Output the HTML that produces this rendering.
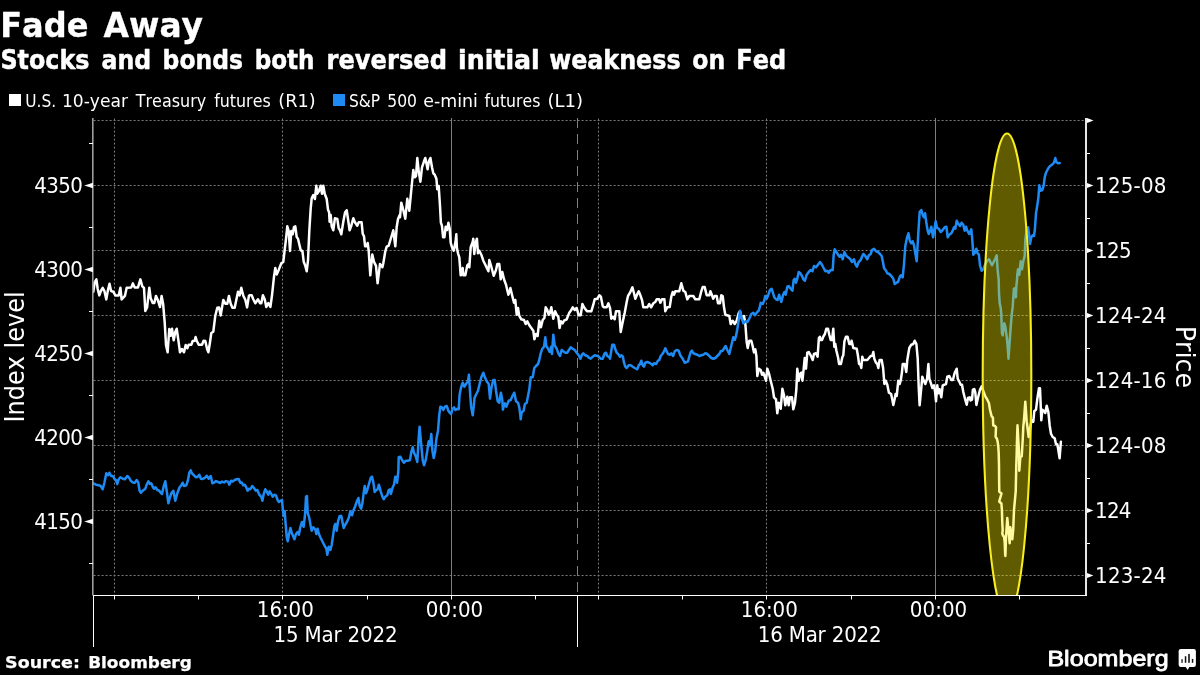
<!DOCTYPE html>
<html lang="en"><head><meta charset="utf-8"><title>Fade Away</title>
<style>
html,body{margin:0;padding:0;background:#000;}
body{width:1200px;height:675px;overflow:hidden;position:relative;font-family:"DejaVu Sans","Liberation Sans",sans-serif;color:#fff;}
svg{position:absolute;left:0;top:0;display:block;}
text{font-family:"DejaVu Sans","Liberation Sans",sans-serif;fill:#fff;font-kerning:none;}
.logo{font-family:"Liberation Sans","DejaVu Sans",sans-serif;}
.gh,.gv{stroke:#7c7c7c;stroke-width:1;stroke-dasharray:2 2;fill:none;}
.gs{stroke:#7e7e7e;stroke-width:1;fill:none;}
.tk{stroke:#fff;stroke-width:1;fill:none;}
.ar{fill:#fff;}
</style></head><body>
<svg width="1200" height="675" viewBox="0 0 1200 675">
<rect width="1200" height="675" fill="#000"/>
<defs><clipPath id="plot"><rect x="93" y="118.0" width="992" height="477.5"/></clipPath></defs>
<g id="header">
<text y="36.60" font-size="32.9" font-weight="bold" stroke="#fff" stroke-width="0.3" stroke-linejoin="round"><tspan x="0.21" textLength="88.25" lengthAdjust="spacingAndGlyphs">Fade</tspan> <tspan x="103.57" textLength="99.44" lengthAdjust="spacingAndGlyphs">Away</tspan></text>
<text y="68.80" font-size="25.8" font-weight="bold" stroke="#fff" stroke-width="0.5" stroke-linejoin="round"><tspan x="0.43" textLength="89.02" lengthAdjust="spacingAndGlyphs">Stocks</tspan> <tspan x="101.56" textLength="49.59" lengthAdjust="spacingAndGlyphs">and</tspan> <tspan x="162.62" textLength="80.35" lengthAdjust="spacingAndGlyphs">bonds</tspan> <tspan x="254.65" textLength="59.93" lengthAdjust="spacingAndGlyphs">both</tspan> <tspan x="326.57" textLength="120.36" lengthAdjust="spacingAndGlyphs">reversed</tspan> <tspan x="458.08" textLength="81.69" lengthAdjust="spacingAndGlyphs">initial</tspan> <tspan x="549.15" textLength="131.46" lengthAdjust="spacingAndGlyphs">weakness</tspan> <tspan x="692.26" textLength="32.90" lengthAdjust="spacingAndGlyphs">on</tspan> <tspan x="736.34" textLength="49.81" lengthAdjust="spacingAndGlyphs">Fed</tspan></text>
<rect x="9" y="94" width="12" height="12" fill="#fff"/>
<text y="106.50" font-size="17"><tspan x="25.31" textLength="30.87" lengthAdjust="spacingAndGlyphs">U.S.</tspan> <tspan x="61.92" textLength="66.16" lengthAdjust="spacingAndGlyphs">10-year</tspan> <tspan x="135.80" textLength="70.40" lengthAdjust="spacingAndGlyphs">Treasury</tspan> <tspan x="214.18" textLength="56.50" lengthAdjust="spacingAndGlyphs">futures</tspan> <tspan x="278.38" textLength="37.36" lengthAdjust="spacingAndGlyphs">(R1)</tspan></text>
<rect x="333" y="94" width="12" height="12" fill="#1e8af4"/>
<text y="106.50" font-size="17"><tspan x="349.02" textLength="31.16" lengthAdjust="spacingAndGlyphs">S&amp;P</tspan> <tspan x="387.25" textLength="29.72" lengthAdjust="spacingAndGlyphs">500</tspan> <tspan x="423.33" textLength="54.53" lengthAdjust="spacingAndGlyphs">e-mini</tspan> <tspan x="484.49" textLength="55.89" lengthAdjust="spacingAndGlyphs">futures</tspan> <tspan x="547.56" textLength="35.55" lengthAdjust="spacingAndGlyphs">(L1)</tspan></text>
</g>
<g id="grid">
<line class="gh" x1="93.6" x2="1084.5" y1="120.5" y2="120.5"/>
<line class="gh" x1="93.6" x2="1084.5" y1="185.5" y2="185.5"/>
<line class="gh" x1="93.6" x2="1084.5" y1="250.5" y2="250.5"/>
<line class="gh" x1="93.6" x2="1084.5" y1="315.5" y2="315.5"/>
<line class="gh" x1="93.6" x2="1084.5" y1="380.5" y2="380.5"/>
<line class="gh" x1="93.6" x2="1084.5" y1="445.5" y2="445.5"/>
<line class="gh" x1="93.6" x2="1084.5" y1="510.5" y2="510.5"/>
<line class="gh" x1="93.6" x2="1084.5" y1="575.5" y2="575.5"/>
<line class="gv" x1="114.5" x2="114.5" y1="118.6" y2="595.5"/>
<line class="gv" x1="282.5" x2="282.5" y1="118.6" y2="595.5"/>
<line class="gv" x1="598.5" x2="598.5" y1="118.6" y2="595.5"/>
<line class="gv" x1="766.5" x2="766.5" y1="118.6" y2="595.5"/>
<line class="gs" x1="451.5" x2="451.5" y1="118.0" y2="595.5"/>
<line class="gs" x1="935.5" x2="935.5" y1="118.0" y2="595.5"/>
<line x1="577.5" x2="577.5" y1="118.0" y2="595.5" stroke="#808080" stroke-width="1" stroke-dasharray="10 6"/>
</g>
<g id="series" fill="none" stroke-linejoin="round" stroke-linecap="round">
<polyline points="93.3,291.7 94.7,282.3 96.4,279.4 97.7,289.0 99.3,295.4 100.9,291.0 102.7,287.9 104.4,291.0 106.3,299.4 108.0,289.7 109.5,283.7 111.1,291.0 113.3,291.7 115.3,295.4 118.7,295.4 120.4,287.7 121.6,299.4 124.9,295.9 126.7,287.7 131.3,287.4 132.9,283.4 134.7,287.4 138.0,287.4 140.4,279.4 142.3,286.3 144.0,287.9 145.3,311.0 147.1,307.4 149.3,287.7 150.7,298.3 152.7,303.0 154.3,303.0 156.0,295.9 157.7,299.7 160.0,307.0 161.6,295.9 163.1,303.7 164.7,322.3 166.0,345.0 167.6,352.3 169.3,329.0 170.7,335.7 172.0,328.7 173.7,340.3 175.3,331.7 176.7,328.7 178.3,339.7 180.0,352.3 182.0,349.0 184.0,352.3 185.7,345.0 187.3,348.3 188.7,344.7 191.3,344.7 192.7,341.0 194.7,340.7 195.6,337.0 196.7,340.7 198.7,344.7 202.0,344.7 203.6,340.7 205.3,341.0 207.1,349.0 208.4,352.3 210.0,342.3 211.3,333.0 213.3,331.7 215.3,315.7 217.3,307.7 219.1,307.4 220.7,315.4 223.3,299.9 225.3,303.7 227.3,303.7 228.9,295.9 230.7,303.7 232.4,307.7 234.7,307.7 238.0,291.7 239.6,295.4 241.3,287.7 243.3,295.7 245.3,299.7 247.1,307.4 248.9,295.9 249.6,295.3 251.7,295.3 253.3,299.3 255.3,303.3 258.0,299.3 260.0,303.3 261.3,303.3 262.9,295.3 264.7,299.3 266.3,307.0 268.3,303.0 270.4,307.0 272.0,295.3 274.0,276.6 275.3,267.9 276.7,274.6 278.7,269.9 281.3,263.3 283.3,261.9 284.7,249.9 286.0,239.0 287.3,226.3 288.7,231.0 290.0,251.0 291.3,231.0 292.7,234.3 294.0,227.0 295.3,226.3 296.7,237.0 298.0,238.7 299.3,244.3 300.7,250.3 302.4,251.0 303.7,261.7 305.3,265.9 306.7,271.3 308.0,260.3 309.3,231.0 310.7,208.3 311.7,198.3 313.3,195.0 314.9,199.0 316.3,185.7 317.3,193.7 318.9,191.0 320.7,185.7 322.0,193.7 323.3,185.7 324.7,193.7 326.7,199.0 328.0,209.7 329.1,212.3 329.6,221.7 330.7,215.0 331.7,226.3 333.3,230.3 334.9,218.3 337.3,219.0 338.7,228.3 340.0,230.3 341.3,234.3 343.3,221.7 345.1,212.3 346.7,210.3 348.0,219.0 349.6,230.3 351.3,225.7 353.3,218.3 354.9,222.3 357.3,225.7 358.7,222.3 361.6,222.3 362.7,233.7 364.0,236.3 365.1,246.3 366.4,246.3 367.7,243.0 368.7,251.0 370.3,275.3 372.3,254.6 374.0,261.9 376.0,265.9 377.6,283.3 380.0,263.9 382.4,267.3 383.3,263.3 385.3,251.3 386.7,246.6 388.7,245.7 390.7,239.0 393.3,230.3 395.3,246.3 396.7,227.0 398.0,219.0 399.7,215.0 400.0,217.3 401.3,202.7 403.3,210.0 405.3,218.7 407.3,198.7 409.3,210.7 411.3,190.0 413.3,170.0 414.7,177.3 416.0,176.0 417.3,158.0 418.7,171.3 420.4,181.7 422.0,167.3 424.0,161.3 425.3,158.0 426.3,162.7 427.6,169.3 428.9,161.3 430.4,158.0 432.0,167.3 433.3,173.3 434.7,174.7 436.4,178.7 437.3,189.3 438.7,186.0 440.0,206.0 440.9,222.7 442.0,226.0 443.1,237.3 444.4,237.3 445.7,226.7 447.1,230.0 448.4,222.7 449.7,228.7 450.7,242.7 452.0,247.3 453.7,250.7 455.6,241.3 456.3,234.3 456.9,248.0 458.0,253.3 459.3,257.3 460.7,275.3 462.7,268.0 463.3,275.3 465.3,275.3 467.3,265.3 468.7,264.0 469.3,267.3 470.7,247.3 472.7,242.0 473.3,238.7 474.3,254.0 475.3,244.0 476.9,238.7 478.0,253.3 479.3,250.7 481.3,254.7 483.3,260.7 485.3,264.7 488.4,271.3 489.3,260.0 491.3,266.7 493.7,275.7 496.0,270.0 497.3,264.0 499.3,264.0 500.7,279.3 502.3,272.0 504.0,279.3 506.0,284.7 508.4,294.7 510.4,288.0 512.0,294.7 514.0,302.7 515.3,300.0 516.7,314.7 518.0,308.0 519.1,315.3 521.3,319.3 524.0,320.0 525.7,324.0 527.3,321.3 529.3,325.3 531.3,328.0 533.3,330.7 534.4,339.3 536.0,334.0 537.6,336.0 539.3,320.7 540.9,327.3 542.7,320.0 544.4,318.0 545.7,307.3 547.3,310.0 548.7,314.7 550.0,312.7 551.3,307.3 553.3,318.7 555.1,311.3 556.7,314.7 558.3,316.7 559.6,328.0 560.9,321.3 562.7,323.3 564.0,320.7 566.7,319.3 569.3,312.7 571.3,310.0 572.7,307.3 574.7,310.0 576.7,308.0 578.7,315.3 580.7,315.3 582.4,304.0 584.0,307.3 586.0,310.0 587.3,311.3 591.3,311.3 593.3,304.7 594.7,299.3 597.3,298.7 599.3,295.3 600.9,296.7 602.7,306.0 604.0,307.3 606.7,307.3 608.4,303.3 610.0,308.0 611.3,318.7 612.9,316.7 614.7,319.3 616.0,311.3 619.3,311.3 620.7,332.0 622.7,322.0 624.7,312.7 626.7,302.0 628.0,296.0 630.0,292.7 632.4,287.3 634.0,293.3 635.3,298.7 637.3,294.0 638.7,291.3 640.4,295.3 642.0,300.0 643.3,307.3 647.3,307.3 649.3,304.0 651.1,307.3 653.3,303.3 655.3,302.0 656.7,299.3 659.1,299.3 660.4,302.7 662.0,299.3 664.4,299.3 665.3,311.3 667.3,307.3 669.7,307.1 671.3,296.7 672.7,292.0 674.0,294.7 675.3,291.3 679.3,291.3 681.3,283.3 683.3,290.7 685.3,292.0 687.3,299.3 689.3,296.0 693.3,296.0 695.3,299.3 699.3,299.3 701.3,291.3 702.7,287.1 704.7,287.1 706.7,295.3 709.3,295.3 710.4,291.3 712.0,295.3 713.3,298.7 714.7,296.0 716.7,296.0 718.0,303.3 720.0,303.3 721.3,295.3 722.7,296.0 724.0,307.3 725.3,314.7 729.3,316.0 730.7,324.0 732.7,320.7 734.7,324.0 736.7,320.7 738.7,313.3 740.0,311.3 742.0,319.3 744.0,316.0 745.3,323.3 746.7,342.0 747.7,348.0 749.3,340.7 751.3,340.7 752.7,346.3 754.0,352.4 755.3,349.3 756.4,356.0 757.3,376.0 758.9,368.7 760.7,370.0 762.0,374.7 763.3,372.7 764.7,376.7 766.0,380.7 767.3,368.7 769.1,374.0 770.7,380.7 772.7,388.7 774.0,397.3 776.0,399.3 777.3,413.3 778.7,402.7 780.7,408.7 782.4,388.7 784.0,395.3 785.3,405.3 787.3,396.7 788.7,405.3 790.0,397.3 792.0,397.3 793.3,409.3 794.9,403.3 796.3,390.0 797.3,368.7 798.7,380.7 800.0,374.0 801.3,372.7 802.4,380.7 803.7,368.7 804.7,358.0 806.0,368.7 807.3,352.7 808.7,352.0 810.7,355.3 812.7,360.0 814.0,354.0 816.0,353.3 817.6,356.7 818.9,338.0 819.9,336.7 820.7,340.0 822.0,340.0 823.3,336.7 824.9,334.0 826.3,328.7 828.0,328.7 829.3,334.7 830.7,340.0 832.0,340.0 833.3,328.7 834.3,346.7 835.3,344.0 836.4,350.7 838.0,357.3 839.1,364.0 840.9,364.0 842.3,357.3 843.3,355.3 844.4,341.3 846.0,336.7 847.6,336.7 849.3,344.0 850.7,344.0 851.6,340.7 853.3,348.0 856.7,348.7 858.0,356.0 859.1,364.0 860.4,364.7 861.3,368.0 862.3,356.7 863.3,360.0 867.3,360.0 870.7,356.0 872.4,355.7 873.3,352.0 874.3,358.7 876.0,362.7 877.3,364.0 878.3,368.0 879.6,360.0 881.7,360.0 883.1,368.0 884.4,384.0 885.7,380.7 887.3,384.7 888.9,392.7 891.1,394.0 892.4,400.0 893.3,405.1 894.7,398.7 895.6,394.0 896.7,396.0 898.3,380.7 899.6,384.0 900.7,380.7 902.0,372.0 902.7,364.0 904.7,364.0 906.3,372.0 907.3,360.0 909.3,348.0 911.3,344.7 913.3,344.0 914.7,340.7 916.4,344.0 917.7,358.7 918.7,386.7 919.6,405.3 920.9,392.0 922.3,376.7 924.0,381.3 925.3,384.0 927.1,378.7 928.4,364.0 929.3,378.7 930.7,382.7 932.4,388.0 934.0,385.3 935.1,392.0 936.0,401.3 937.3,385.3 938.3,393.3 939.6,389.3 941.3,397.3 942.7,385.3 946.0,384.0 947.3,376.7 949.3,376.0 951.3,380.0 952.9,380.0 954.7,372.7 956.7,368.7 957.7,378.7 959.1,381.3 960.7,384.7 962.0,384.7 963.3,392.0 965.3,400.0 966.7,404.7 968.0,398.0 969.7,397.3 970.5,400.5 972.0,399.7 972.9,389.7 974.3,389.0 975.3,392.3 976.4,405.0 978.0,397.7 980.0,389.7 981.7,386.3 983.3,391.0 985.3,396.3 987.3,399.7 988.9,403.0 990.0,409.7 991.6,416.3 992.9,417.7 993.2,425.3 995.0,426.0 996.0,427.3 995.6,436.7 996.9,438.7 997.7,442.0 998.3,446.7 998.7,453.3 999.0,465.0 999.1,478.3 999.3,491.7 1001.5,493.5 999.2,501.5 1001.4,503.5 1001.9,510.0 1002.3,523.3 1002.7,530.0 1002.3,533.3 1003.0,535.7 1004.0,536.7 1004.7,542.0 1005.2,555.0 1005.4,556.0 1006.0,537.0 1007.3,518.0 1009.7,543.3 1010.3,527.3 1012.3,539.3 1013.2,530.0 1014.0,510.0 1015.7,491.7 1016.0,478.3 1016.3,465.0 1016.7,453.3 1017.0,440.0 1017.5,425.3 1018.3,440.0 1019.0,452.0 1019.3,470.7 1020.3,457.3 1021.7,456.3 1022.0,452.0 1022.7,440.0 1023.3,426.7 1024.0,420.0 1025.3,401.7 1026.7,421.7 1027.6,428.3 1028.7,437.0 1030.0,428.3 1031.6,420.3 1033.3,421.7 1034.3,411.0 1036.0,409.7 1037.3,399.0 1039.0,388.3 1040.0,388.3 1041.3,420.3 1042.3,409.7 1044.0,411.0 1045.3,413.0 1046.7,405.7 1048.4,412.3 1049.7,425.7 1051.0,433.7 1052.7,437.0 1054.7,438.3 1056.0,444.3 1057.3,444.3 1058.3,449.7 1059.6,458.3 1060.9,441.7" stroke="#fff" stroke-width="2.5"/>
<polyline points="93.3,483.3 96.0,484.7 98.7,485.3 100.7,486.0 102.7,489.3 104.4,482.7 106.3,473.3 108.0,475.3 109.3,472.7 111.1,476.0 112.9,476.0 114.7,479.3 116.0,480.0 117.3,484.0 118.7,479.3 120.4,477.3 122.7,478.7 124.9,479.3 127.3,476.0 129.3,478.0 130.7,480.7 132.7,482.4 134.7,482.7 136.7,480.0 138.3,482.7 139.6,490.7 140.9,492.7 142.7,490.7 145.3,488.7 146.7,484.7 148.4,481.3 150.0,484.0 151.3,483.3 152.7,486.7 154.0,488.7 155.6,487.3 157.3,490.0 159.3,490.7 160.7,492.7 162.0,494.0 163.6,486.7 165.3,481.3 166.7,490.7 168.4,503.3 170.0,497.3 171.6,492.7 173.3,490.7 175.3,500.7 177.3,493.3 179.6,487.3 181.3,485.3 182.7,482.7 184.0,486.0 186.3,485.3 188.0,480.0 189.3,472.7 190.7,470.4 192.0,473.3 194.0,475.3 196.0,477.3 197.7,476.7 199.3,474.7 200.9,478.7 202.7,478.9 204.7,478.0 206.7,475.7 208.7,478.7 210.7,476.0 212.4,483.3 214.0,482.7 216.0,481.1 218.0,482.0 220.0,482.9 222.0,481.6 224.0,482.4 226.0,481.1 228.0,481.6 229.3,484.7 231.1,480.7 232.7,481.6 234.7,480.0 236.7,479.3 238.7,478.9 240.4,482.7 241.7,482.4 243.3,485.3 244.7,484.7 246.0,486.7 247.6,490.7 248.9,488.7 249.9,489.3 250.7,488.7 252.3,486.0 254.0,488.0 255.7,490.7 257.3,490.0 259.3,494.7 261.1,496.7 262.4,500.7 263.7,494.0 265.3,489.3 266.9,492.0 268.3,494.7 269.6,491.3 271.3,494.0 272.7,496.7 274.4,494.7 276.0,495.3 277.6,500.0 278.9,502.0 280.7,500.7 282.0,500.0 282.9,510.0 283.7,516.0 284.7,511.3 285.6,523.3 286.7,536.7 287.7,541.3 289.1,534.0 290.4,528.0 291.7,532.7 293.1,536.0 294.4,539.3 296.0,534.0 297.6,532.0 298.9,534.7 300.3,527.3 302.0,522.0 303.7,526.7 305.1,514.0 306.0,496.7 306.9,496.0 307.7,512.7 309.3,518.0 310.7,526.0 311.7,530.7 313.3,527.3 315.3,529.3 316.3,534.0 317.6,528.7 318.9,534.0 320.7,538.0 322.7,542.0 324.7,546.0 326.4,548.7 327.3,554.7 328.7,546.7 330.4,550.0 331.7,544.7 333.1,535.3 334.4,526.0 335.3,524.0 336.7,530.7 338.0,521.3 339.7,516.0 341.3,516.0 342.7,523.3 343.7,528.0 345.3,524.7 346.9,522.0 348.7,518.0 350.4,511.3 352.0,515.3 353.6,510.0 355.3,506.0 357.1,500.7 358.4,498.0 359.7,506.0 361.1,508.7 362.4,503.3 363.7,492.7 364.7,486.0 366.0,493.3 367.3,490.0 369.1,483.3 370.7,478.0 372.0,476.7 373.3,482.0 374.7,492.0 376.3,490.0 377.6,489.3 378.9,484.7 380.7,491.3 382.4,496.7 383.7,499.3 385.3,496.7 387.3,495.3 388.7,490.0 390.0,489.3 390.9,494.0 392.7,487.3 394.0,484.7 395.3,476.7 397.1,482.7 398.4,470.0 398.7,457.3 400.4,456.7 402.0,460.0 404.0,462.7 405.7,460.7 408.0,460.7 410.0,460.0 411.3,452.0 412.7,447.3 414.0,452.7 415.6,456.0 417.3,462.0 418.7,437.3 419.6,426.7 420.9,441.3 422.7,460.0 424.0,465.3 425.7,460.0 427.3,450.7 428.7,441.3 430.0,445.3 431.3,434.0 432.4,450.7 433.7,458.0 435.1,452.0 436.4,438.7 438.0,430.7 439.3,414.7 440.4,406.7 442.0,407.3 443.3,410.0 444.9,406.7 446.7,406.0 448.4,410.7 449.7,412.7 451.1,414.0 452.4,409.3 454.0,407.3 455.6,410.0 457.3,408.7 458.7,409.3 459.6,394.7 460.9,388.0 462.7,382.7 464.4,386.7 466.0,384.0 468.0,381.3 468.9,374.7 469.7,386.7 470.4,397.3 471.1,406.7 472.7,415.3 473.7,406.7 474.5,398.0 476.0,394.7 478.0,390.7 479.6,384.0 481.3,377.3 483.3,372.7 484.9,377.3 486.7,381.3 488.7,384.0 490.0,398.7 491.6,386.7 493.3,380.0 494.7,380.0 496.0,390.7 497.7,401.3 499.3,402.7 500.9,392.7 502.3,400.0 502.9,409.6 504.0,405.3 504.9,403.3 506.3,406.7 508.7,400.7 510.7,400.0 512.4,396.0 514.3,392.7 516.0,401.3 518.0,402.7 519.3,407.3 520.1,413.3 520.7,419.3 521.5,413.3 522.3,411.7 523.6,410.7 524.9,404.0 526.7,402.7 528.0,396.0 529.3,389.3 530.7,377.3 532.7,377.3 534.3,368.0 536.0,366.0 538.0,364.0 539.3,360.0 540.7,353.3 542.3,348.7 544.0,346.7 545.3,337.3 546.3,346.0 548.0,348.7 549.7,352.0 551.1,346.7 552.0,354.0 553.3,334.7 554.7,345.3 556.7,348.7 558.3,353.3 560.0,356.0 561.7,350.0 563.3,351.3 565.3,352.7 567.3,352.7 568.9,350.0 570.7,347.3 572.7,348.7 574.7,350.0 576.7,352.7 578.7,355.3 580.4,358.7 582.0,354.7 583.3,353.3 585.3,355.3 587.3,356.0 589.3,358.0 590.7,358.7 592.7,356.7 594.7,355.3 596.7,355.7 598.7,356.7 600.7,358.7 602.7,358.7 604.7,353.3 606.0,352.7 607.3,356.0 609.3,357.3 610.0,358.7 611.3,350.7 612.3,344.7 614.0,344.7 615.3,349.3 616.7,352.7 618.7,354.7 620.0,356.7 621.6,355.3 622.9,356.7 624.0,362.7 625.3,366.7 626.7,368.0 628.7,365.3 630.7,365.3 632.7,366.7 634.7,368.0 637.3,369.3 638.7,365.3 640.0,364.0 641.3,360.7 642.7,365.3 644.0,366.7 645.3,362.7 647.3,362.0 649.3,362.7 651.3,364.0 652.7,365.3 654.0,363.3 656.0,364.0 658.0,360.7 659.3,360.0 660.7,356.0 662.4,354.0 664.0,351.3 665.3,348.3 666.7,351.3 668.0,354.0 670.0,354.7 671.3,353.3 673.1,356.0 674.7,351.3 676.7,350.0 678.7,350.7 680.0,354.7 681.3,356.7 682.7,358.7 684.7,362.7 686.7,362.0 688.0,361.3 689.3,356.7 690.7,352.0 692.0,350.7 693.3,353.3 695.3,354.0 697.3,354.7 699.3,356.0 701.3,355.3 703.3,354.7 705.3,353.3 707.3,354.0 709.3,356.0 711.3,358.0 713.3,358.7 715.3,358.0 717.3,356.0 719.3,354.0 720.7,351.3 722.7,350.7 724.3,348.0 725.6,346.0 727.3,350.0 729.3,354.0 730.7,348.0 732.0,342.7 733.3,337.3 734.7,340.0 736.0,336.0 737.3,329.3 738.7,320.0 740.0,310.7 741.3,316.0 743.3,323.3 745.3,321.3 747.3,322.0 749.3,318.7 751.3,314.0 753.3,312.7 754.9,315.3 756.7,312.7 758.7,310.7 759.9,306.7 760.7,302.7 762.7,304.0 764.0,301.3 765.3,296.0 766.7,298.7 768.4,294.7 770.0,290.0 771.6,288.7 772.9,292.7 774.3,297.3 776.0,299.3 777.7,300.0 779.1,294.7 781.3,302.0 783.1,294.7 784.4,292.0 785.7,294.7 787.3,286.7 788.7,286.0 790.0,288.0 792.4,290.7 793.7,280.0 794.7,278.7 796.0,282.7 797.3,278.7 798.7,272.0 800.4,273.3 802.0,276.0 803.3,279.3 804.9,280.7 806.7,274.7 808.7,272.0 810.7,270.0 812.4,271.3 814.0,266.0 816.0,267.3 818.0,264.7 820.0,262.0 822.0,264.7 823.6,268.0 825.3,271.3 827.3,270.7 828.7,272.7 830.7,270.0 832.7,270.0 833.7,254.7 834.7,249.3 836.4,252.0 838.0,254.7 839.6,256.7 840.9,254.7 842.7,259.3 844.4,252.0 846.0,255.3 848.0,257.3 850.0,258.7 852.0,262.0 854.0,259.3 855.3,264.0 856.9,266.7 858.7,262.0 860.7,260.0 862.0,256.7 863.3,254.0 865.3,256.0 867.3,259.3 868.9,255.3 870.7,254.0 872.0,250.0 874.0,248.7 876.0,251.3 878.0,252.0 880.0,254.0 881.7,256.0 883.1,262.7 884.0,268.0 886.0,270.7 887.3,273.3 889.3,274.0 891.3,276.0 893.3,278.7 894.7,284.0 896.4,282.7 898.0,282.0 899.6,277.3 900.9,275.3 902.7,277.3 904.0,264.0 905.3,246.0 907.1,237.3 908.4,233.3 909.7,240.0 910.0,241.3 911.3,243.3 912.7,241.3 914.0,245.3 915.3,253.3 916.7,261.3 917.6,245.3 918.7,226.7 919.7,212.0 921.3,210.0 922.9,215.3 924.0,217.3 925.1,213.3 926.4,223.3 927.7,230.7 928.7,234.0 930.0,231.3 931.3,226.7 933.1,237.3 934.4,229.3 935.7,221.3 937.1,228.0 938.7,228.7 940.7,232.0 942.7,230.0 944.7,227.3 946.4,226.7 947.7,237.3 949.3,234.7 951.3,233.3 952.7,230.7 954.0,227.3 955.3,228.7 956.7,220.7 958.4,224.0 960.0,226.0 961.6,222.7 963.3,224.7 964.7,230.7 966.0,226.7 967.3,230.7 969.3,234.0 971.3,229.3 972.3,240.0 973.3,254.7 974.9,252.7 976.3,248.7 977.6,253.3 978.9,254.7 980.0,265.3 981.6,270.7 983.3,269.3 985.3,264.0 987.3,260.7 989.1,259.3 990.7,262.7 992.0,265.3 994.0,261.3 995.3,258.7 996.7,255.3 997.6,269.3 998.4,277.3 998.7,280.0 999.0,293.3 999.7,303.3 1000.7,308.0 1001.3,314.7 1001.7,326.7 1002.0,333.3 1002.7,335.3 1003.7,326.7 1004.3,323.3 1005.3,326.7 1006.7,336.7 1007.7,346.7 1008.5,358.7 1009.3,346.7 1010.0,336.7 1010.7,326.7 1011.3,320.0 1011.7,314.7 1012.7,306.7 1013.3,297.3 1013.9,288.7 1015.3,288.0 1015.9,297.3 1016.3,286.7 1017.0,280.0 1017.3,274.7 1018.0,269.3 1019.3,274.7 1020.7,261.3 1022.0,269.3 1023.3,261.3 1024.7,256.0 1025.3,240.0 1026.7,229.3 1028.0,227.3 1029.1,234.7 1030.0,244.0 1031.3,237.3 1032.7,235.3 1034.0,236.0 1034.9,229.3 1036.0,213.3 1037.3,205.3 1038.4,197.3 1039.3,185.3 1040.7,190.7 1042.4,190.0 1043.7,185.3 1044.7,177.3 1046.0,172.7 1048.0,168.7 1050.0,166.0 1052.0,164.7 1054.0,162.7 1055.3,158.0 1056.3,162.0 1058.0,163.3 1059.7,163.0" stroke="#1e8af4" stroke-width="2.5"/>
</g>
<ellipse cx="1007" cy="375" rx="24.3" ry="241.5" fill="#ffee00" fill-opacity="0.375" stroke="#f6ec1e" stroke-width="2.1" clip-path="url(#plot)"/>
<g id="axes">
<line x1="92.8" x2="92.8" y1="118.0" y2="595.5" stroke="#9c9c9c" stroke-width="1.6"/>
<line x1="93.5" x2="93.5" y1="595.5" y2="647" stroke="#fff" stroke-width="1"/>
<line x1="577.5" x2="577.5" y1="595.5" y2="647" stroke="#fff" stroke-width="1"/>
<line x1="93" x2="1087" y1="595.5" y2="595.5" stroke="#fff" stroke-width="1.2"/>
<line x1="1086.0" x2="1086.0" y1="118.0" y2="596.1" stroke="#fff" stroke-width="1.8"/>
<path class="ar" d="M84.3,185.5 L93,182.8 V188.2 Z"/>
<text transform="translate(34.31,193.10) scale(0.9200,1)" font-size="21.6" letter-spacing="-0.684">4350</text>
<path class="ar" d="M84.3,269.5 L93,266.8 V272.2 Z"/>
<text transform="translate(34.31,277.10) scale(0.9200,1)" font-size="21.6" letter-spacing="-0.684">4300</text>
<path class="ar" d="M84.3,353.5 L93,350.8 V356.2 Z"/>
<text transform="translate(34.31,361.10) scale(0.9200,1)" font-size="21.6" letter-spacing="-0.684">4250</text>
<path class="ar" d="M84.3,437.5 L93,434.8 V440.2 Z"/>
<text transform="translate(34.31,445.10) scale(0.9200,1)" font-size="21.6" letter-spacing="-0.684">4200</text>
<path class="ar" d="M84.3,521.5 L93,518.8 V524.2 Z"/>
<text transform="translate(34.31,529.10) scale(0.9200,1)" font-size="21.6" letter-spacing="-0.684">4150</text>
<line class="tk" x1="89" x2="93" y1="143.5" y2="143.5"/>
<line class="tk" x1="89" x2="93" y1="227.5" y2="227.5"/>
<line class="tk" x1="89" x2="93" y1="311.5" y2="311.5"/>
<line class="tk" x1="89" x2="93" y1="395.5" y2="395.5"/>
<line class="tk" x1="89" x2="93" y1="479.5" y2="479.5"/>
<line class="tk" x1="89" x2="93" y1="563.5" y2="563.5"/>
<path class="ar" d="M1087,118 L1093.5,120.5 L1087,123 Z"/>
<path class="ar" d="M1087,183.1 L1093.4,185.5 L1087,187.9 Z"/>
<text transform="translate(1095.01,193.10) scale(0.9200,1)" font-size="21.6" letter-spacing="0.246">125-08</text>
<path class="ar" d="M1087,248.1 L1093.4,250.5 L1087,252.9 Z"/>
<text transform="translate(1095.01,258.10) scale(0.9200,1)" font-size="21.6" letter-spacing="-0.696">125</text>
<path class="ar" d="M1087,313.1 L1093.4,315.5 L1087,317.9 Z"/>
<text transform="translate(1095.01,323.10) scale(0.9200,1)" font-size="21.6" letter-spacing="0.246">124-24</text>
<path class="ar" d="M1087,378.1 L1093.4,380.5 L1087,382.9 Z"/>
<text transform="translate(1095.01,388.10) scale(0.9200,1)" font-size="21.6" letter-spacing="0.202">124-16</text>
<path class="ar" d="M1087,443.1 L1093.4,445.5 L1087,447.9 Z"/>
<text transform="translate(1095.01,453.10) scale(0.9200,1)" font-size="21.6" letter-spacing="0.246">124-08</text>
<path class="ar" d="M1087,508.1 L1093.4,510.5 L1087,512.9 Z"/>
<text transform="translate(1095.01,518.10) scale(0.9200,1)" font-size="21.6" letter-spacing="-0.803">124</text>
<path class="ar" d="M1087,573.1 L1093.4,575.5 L1087,577.9 Z"/>
<text transform="translate(1095.01,583.10) scale(0.9200,1)" font-size="21.6" letter-spacing="0.246">123-24</text>
<line class="tk" x1="1087" x2="1090" y1="153.5" y2="153.5"/>
<line class="tk" x1="1087" x2="1090" y1="218.5" y2="218.5"/>
<line class="tk" x1="1087" x2="1090" y1="283.5" y2="283.5"/>
<line class="tk" x1="1087" x2="1090" y1="348.5" y2="348.5"/>
<line class="tk" x1="1087" x2="1090" y1="413.5" y2="413.5"/>
<line class="tk" x1="1087" x2="1090" y1="478.5" y2="478.5"/>
<line class="tk" x1="1087" x2="1090" y1="543.5" y2="543.5"/>
<line class="tk" x1="114.5" x2="114.5" y1="595.5" y2="599.5"/>
<line class="tk" x1="198.5" x2="198.5" y1="595.5" y2="599.5"/>
<line class="tk" x1="282.5" x2="282.5" y1="595.5" y2="599.5"/>
<line class="tk" x1="367.5" x2="367.5" y1="595.5" y2="599.5"/>
<line class="tk" x1="451.5" x2="451.5" y1="595.5" y2="599.5"/>
<line class="tk" x1="535.5" x2="535.5" y1="595.5" y2="599.5"/>
<line class="tk" x1="598.5" x2="598.5" y1="595.5" y2="599.5"/>
<line class="tk" x1="682.5" x2="682.5" y1="595.5" y2="599.5"/>
<line class="tk" x1="766.5" x2="766.5" y1="595.5" y2="599.5"/>
<line class="tk" x1="851.5" x2="851.5" y1="595.5" y2="599.5"/>
<line class="tk" x1="935.5" x2="935.5" y1="595.5" y2="599.5"/>
<line class="tk" x1="1019.5" x2="1019.5" y1="595.5" y2="599.5"/>
<text transform="translate(256.81,617.20) scale(0.9200,1)" font-size="21.6" letter-spacing="-0.069">16:00</text>
<text transform="translate(740.81,617.20) scale(0.9200,1)" font-size="21.6" letter-spacing="-0.069">16:00</text>
<text transform="translate(425.81,617.20) scale(0.9200,1)" font-size="21.6" letter-spacing="0.042">00:00</text>
<text transform="translate(909.81,617.20) scale(0.9200,1)" font-size="21.6" letter-spacing="0.042">00:00</text>
<text transform="translate(273.41,642.10) scale(0.9200,1)" font-size="21.6" letter-spacing="-0.186">15 Mar 2022</text>
<text transform="translate(757.71,642.10) scale(0.9200,1)" font-size="21.6" letter-spacing="-0.219">16 Mar 2022</text>
<text transform="translate(24.40,422.60) rotate(-90) scale(0.8964,1)" font-size="26.8">Index level</text>
<text transform="translate(1176.00,325.77) rotate(90) scale(0.9816,1)" font-size="25.8">Price</text>
</g>
<g id="footer">
<text y="667.60" font-size="16.5" font-weight="bold" stroke="#fff" stroke-width="0.25" stroke-linejoin="round"><tspan x="5.08" textLength="74.80" lengthAdjust="spacingAndGlyphs">Source:</tspan> <tspan x="88.18" textLength="103.65" lengthAdjust="spacingAndGlyphs">Bloomberg</tspan></text>
<text class="logo" transform="translate(1047.4,666.3) scale(1.145,1)" font-size="21.9" stroke="#fff" stroke-width="0.8" stroke-linejoin="round">Bloomberg</text>
<g id="bbicon"><rect x="1178.65" y="649.05" width="17.25" height="17.9" rx="2.2" fill="#fff"/><path d="M1185.5,666.5 h4.2 l-2.1,3.5 z" fill="#fff"/><rect x="1181.3" y="659.2" width="1.5" height="3.6" fill="#333"/><rect x="1184.8" y="656.2" width="1.5" height="6.6" fill="#111"/><rect x="1188.2" y="653.9" width="1.6" height="8.9" fill="#111"/><rect x="1191.8" y="658.9" width="1.5" height="3.9" fill="#111"/></g>
</g>
</svg>
</body></html>
